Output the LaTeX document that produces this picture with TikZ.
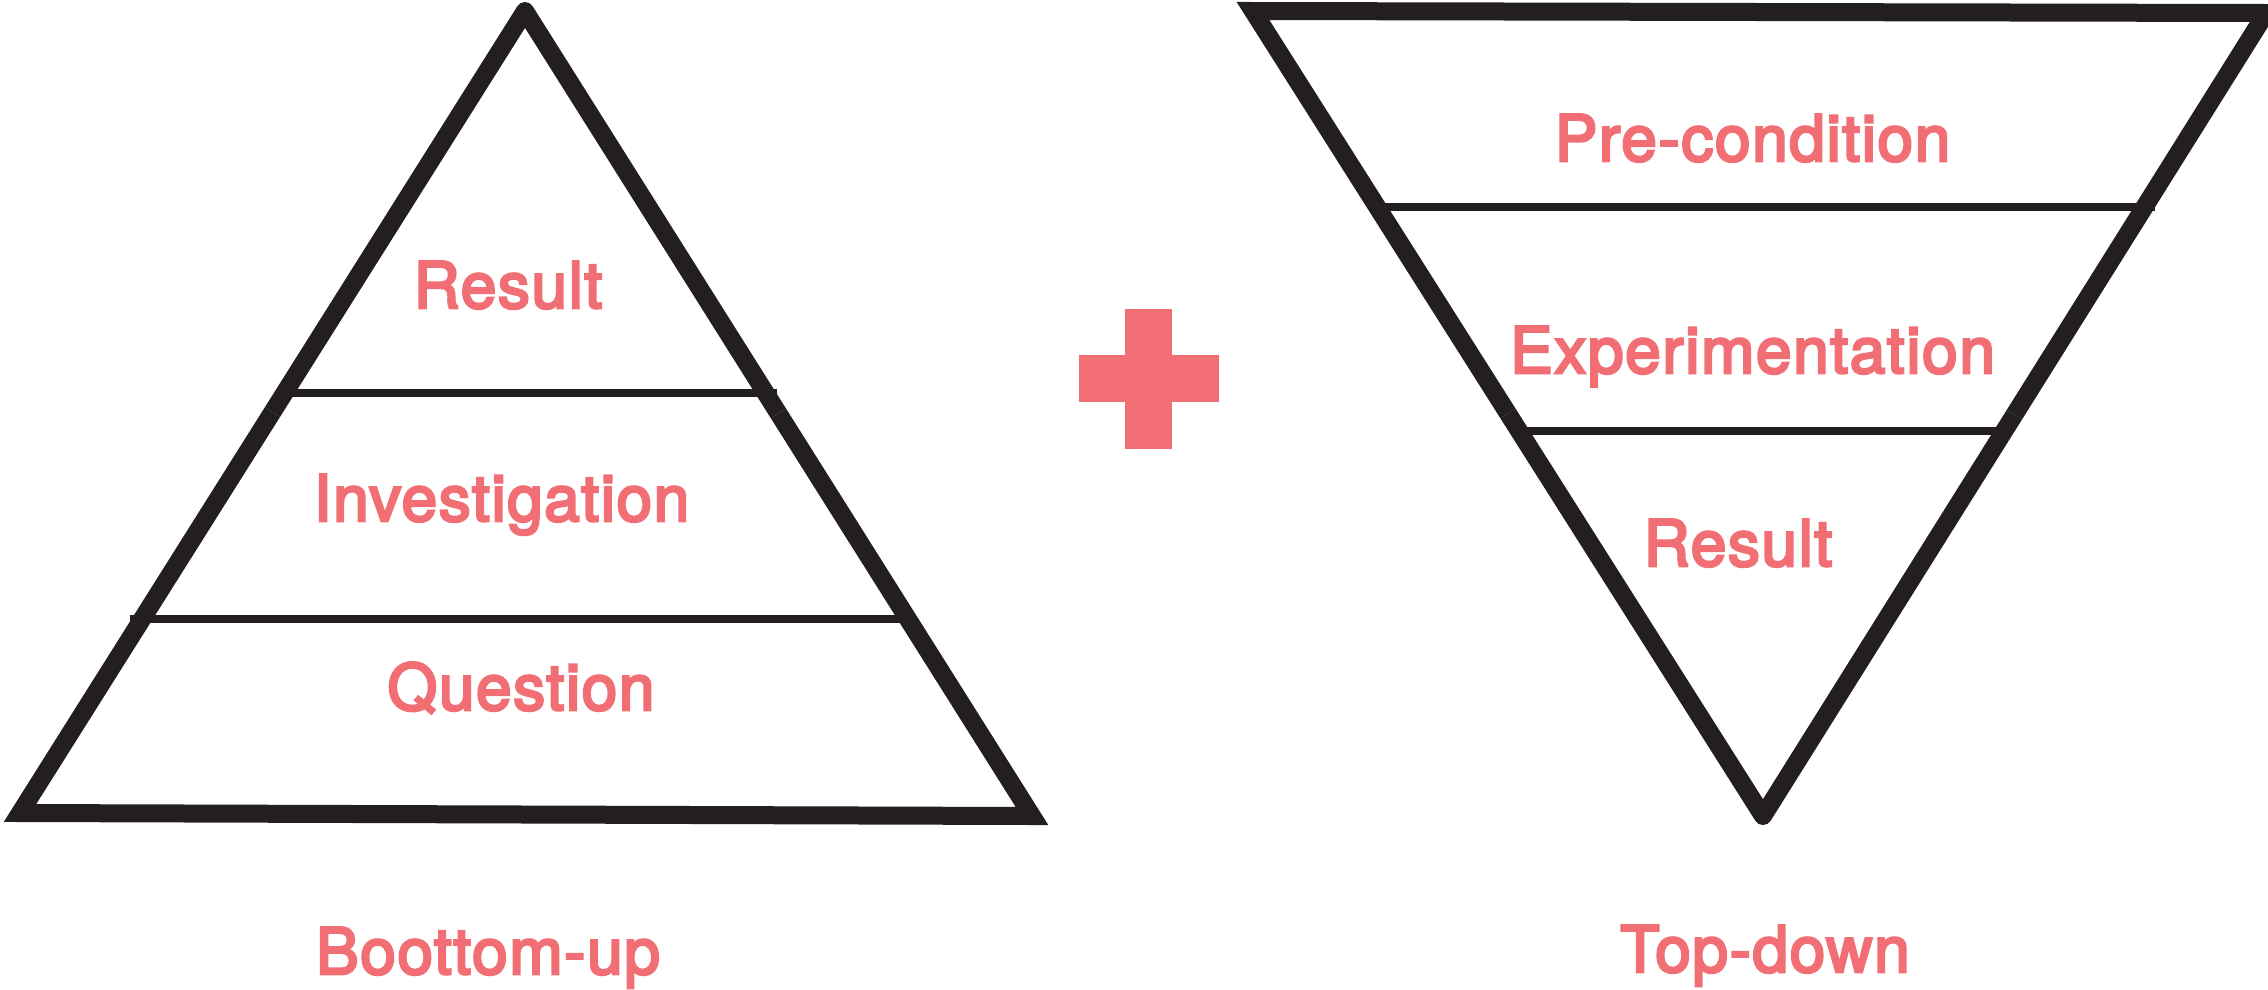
\documentclass[tikz,border=0pt]{standalone}
\usepackage{fontspec}
\usetikzlibrary{calc}
\newfontfamily\lblfont{TeX Gyre Heros}[LetterSpace=2.5,FakeBold=4]
\definecolor{ink}{HTML}{231F20}
\definecolor{rose}{HTML}{F06E74}
\begin{document}
\begin{tikzpicture}[x=1pt,y=-1pt,
  frame/.style={draw=ink,line width=18pt,line join=miter},
  apexline/.style={draw=ink,line width=18pt,line join=round},
  divider/.style={draw=ink,line width=8pt},
  lbl/.style={text=rose,anchor=base,inner sep=0pt,font=\lblfont\fontsize{64}{70}\selectfont}]
\useasboundingbox (0,0) rectangle (2268,989);
% left triangle (bottom-up)
\coordinate (LA) at (525,11);
\coordinate (LBL) at (20,813);
\coordinate (LBR) at (1032,816);
\coordinate (LML) at ($(LA)!0.5!(LBL)$);
\coordinate (LMR) at ($(LA)!0.5!(LBR)$);
\path[frame] (LML) -- (LBL) -- (LBR) -- (LMR);
\path[apexline] (LMR) -- (LA) -- (LML);
\coordinate (l1a) at (283,393); \coordinate (l1b) at (777,393);
\coordinate (l2a) at (130,619); \coordinate (l2b) at (907,619);
\path[divider] (l1a) -- (l1b);
\path[divider] (l2a) -- (l2b);
% right triangle (top-down)
\coordinate (RTL) at (1253,11);
\coordinate (RTR) at (2266,13);
\coordinate (RB) at (1763,816);
\coordinate (RML) at ($(RTL)!0.5!(RB)$);
\coordinate (RMR) at ($(RTR)!0.5!(RB)$);
\path[frame] (RML) -- (RTL) -- (RTR) -- (RMR);
\path[apexline] (RMR) -- (RB) -- (RML);
\coordinate (r1a) at (1381,207); \coordinate (r1b) at (2155,207);
\coordinate (r2a) at (1511,431); \coordinate (r2b) at (2003,431);
\path[divider] (r1a) -- (r1b);
\path[divider] (r2a) -- (r2b);
% plus sign
\fill[rose] (1079,355) rectangle (1219,402);
\fill[rose] (1125,309) rectangle (1172,449);
% labels
\node[lbl] (resL) at (508,308) {Result};
\node[lbl] (inv) at (501.5,521) {Investigation};
\node[lbl] (que) at (521,710) {Question};
\node[lbl] (bu) at (488,974) {Boottom-up};
\node[lbl] (pre) at (1752.5,161) {Pre-condition};
\node[lbl] (exp) at (1752.5,373) {Experimentation};
\node[lbl] (resR) at (1738,566) {Result};
\node[lbl] (td) at (1765,972) {Top-down};
\end{tikzpicture}
\end{document}
